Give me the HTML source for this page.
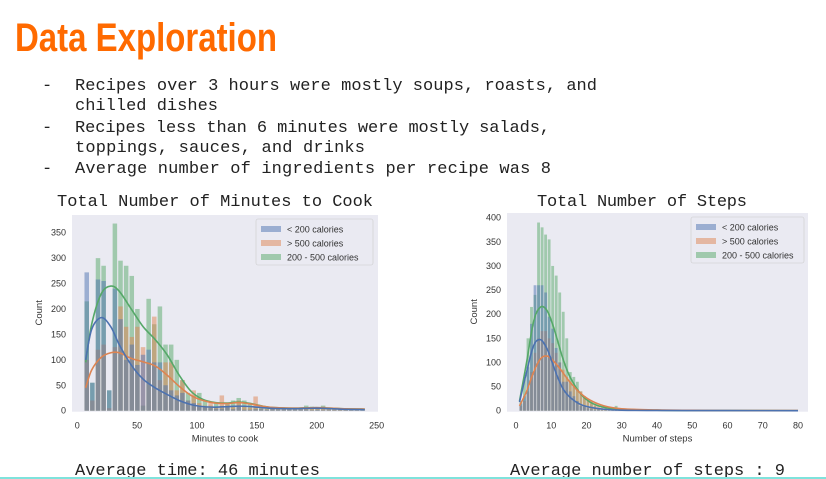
<!DOCTYPE html>
<html><head><meta charset="utf-8"><style>
html,body{margin:0;padding:0;background:#fff;}
svg{display:block;}
.mono{font-family:"Liberation Mono","DejaVu Sans Mono",monospace;font-size:17px;fill:#222;}
.tick{font-family:"Liberation Sans",sans-serif;font-size:9px;fill:#333;}
.lab{font-family:"Liberation Sans",sans-serif;font-size:9.5px;fill:#333;}
</style></head><body>
<svg id="slide" width="826" height="479" viewBox="0 0 826 479" xmlns="http://www.w3.org/2000/svg">
<text x="15" y="51" textLength="262" lengthAdjust="spacingAndGlyphs" style="font-family:'Liberation Sans Narrow','Liberation Sans',sans-serif;font-weight:bold;font-size:40px;fill:#ff6a00">Data Exploration</text>
<g>
<text class="mono" x="42" y="90">-</text><text class="mono" x="75" y="90" textLength="522">Recipes over 3 hours were mostly soups, roasts, and</text>
<text class="mono" x="75" y="110" textLength="143">chilled dishes</text>
<text class="mono" x="42" y="132">-</text><text class="mono" x="75" y="132" textLength="475">Recipes less than 6 minutes were mostly salads,</text>
<text class="mono" x="75" y="152" textLength="290">toppings, sauces, and drinks</text>
<text class="mono" x="42" y="173">-</text><text class="mono" x="75" y="173" textLength="476">Average number of ingredients per recipe was 8</text>
</g>
<text class="mono" x="57" y="206" textLength="316">Total Number of Minutes to Cook</text>
<text class="mono" x="537" y="206" textLength="210">Total Number of Steps</text>
<text class="mono" x="75" y="475" textLength="245">Average time: 46 minutes</text>
<text class="mono" x="510" y="475" textLength="275">Average number of steps : 9</text>
<rect x="0" y="477" width="826" height="2" fill="#7fe3dc"/>
<g id="c1"></g><g id="c2"></g>
</svg>
<script>
// ---- Chart 1 data: minutes to cook ----
const c1BinStart = 6, c1BinWidth = 4.7;
const c1Low = [272,55,258,255,40,240,180,100,130,90,110,120,95,95,50,40,30,35,20,15,8,6,5,4,4,8,3,8,2,2,3,3,2,3,2,2,2,2,2,2,1,2,1,1,1,1,1,1,1,1];
const c1High = [100,20,120,130,5,125,205,165,145,165,125,95,185,60,95,95,40,60,20,40,15,10,15,8,30,12,10,20,8,6,28,4,3,4,4,3,5,5,5,5,4,5,8,5,3,3,3,3,3,5];
const c1Mid = [215,55,300,285,40,368,295,285,265,200,10,220,170,205,130,130,100,60,35,30,35,20,10,15,10,15,20,25,20,15,8,5,5,5,5,5,5,5,5,10,8,5,10,5,5,3,3,3,3,3];
const c1KdeX = [7,12,20,28,35,45,55,65,75,85,95,105,115,125,135,145,160,180,200,220,240];
const c1KdeLow = [100,160,183,165,130,90,62,45,32,20,12,8,7,8,9,8,5,4,5,3,2];
const c1KdeHigh = [45,80,105,114,114,103,96,88,70,48,30,20,15,14,16,13,7,5,6,4,3];
const c1KdeMid = [95,170,230,245,235,200,165,140,110,70,38,22,16,15,17,14,7,5,6,4,3];
const c1XTicks = [0,50,100,150,200,250];
const c1YTicks = [0,50,100,150,200,250,300,350];
// ---- Chart 2 data: number of steps ----
const c2BinStart = 1, c2BinWidth = 1;
const c2Low = [15,30,90,180,260,260,260,245,195,170,130,100,60,60,40,30,20,10,8,5,3,2,2,1,1,1,1,1,1,1];
const c2High = [10,20,40,80,120,150,165,165,150,140,120,100,85,70,60,50,45,40,30,25,20,15,10,8,5,5,3,3,2,2,2,1,1,1,1,1];
const c2Mid = [20,65,150,215,240,390,380,365,355,300,280,245,205,150,80,70,60,40,30,20,15,10,5,3,3,2,2,10,2,1,1,1];
const c2KdeX = [1,3,5,7,9,11,13,15,18,21,25,30,40,50,60,80];
const c2KdeLow = [18,80,135,147,125,85,50,30,14,7,3,1,0.5,0.3,0.2,0.1];
const c2KdeHigh = [10,40,80,108,113,100,82,62,38,22,10,4,1.5,0.8,0.4,0.2];
const c2KdeMid = [20,100,185,215,205,165,115,75,38,18,7,3,1,0.5,0.3,0.1];
const c2XTicks = [0,10,20,30,40,50,60,70,80];
const c2YTicks = [0,50,100,150,200,250,300,350,400];

const NS = "http://www.w3.org/2000/svg";
const COL = {low:"#4c72b0", high:"#dd8452", mid:"#55a868"};
function mk(tag, attrs, parent){const e=document.createElementNS(NS,tag);for(const k in attrs)e.setAttribute(k,attrs[k]);parent.appendChild(e);return e;}
function curve(pts){let d="M"+pts[0][0]+","+pts[0][1];for(let i=0;i<pts.length-1;i++){const p0=pts[Math.max(0,i-1)],p1=pts[i],p2=pts[i+1],p3=pts[Math.min(pts.length-1,i+2)];const c1=[p1[0]+(p2[0]-p0[0])/6,p1[1]+(p2[1]-p0[1])/6],c2=[p2[0]-(p3[0]-p1[0])/6,p2[1]-(p3[1]-p1[1])/6];d+=" C"+c1+" "+c2+" "+p2;}return d;}

function drawChart(g, cfg){
  const sx=v=>cfg.x0+(v-cfg.xmin)*(cfg.x1-cfg.x0)/(cfg.xmax-cfg.xmin);
  const sy=v=>cfg.y0-v*cfg.yScale;
  const bg=mk("rect",{x:cfg.left,y:cfg.top,width:cfg.right-cfg.left,height:cfg.y0-cfg.top+1,fill:"#eaeaf2"},g);
  
  
  const series=[["mid",cfg.mid,cfg.kMid],["high",cfg.high,cfg.kHigh],["low",cfg.low,cfg.kLow]];
  series.forEach(([key,vals])=>{
    vals.forEach((v,i)=>{
      const xa=sx(cfg.binStart+i*cfg.binWidth), xb=sx(cfg.binStart+(i+1)*cfg.binWidth);
      const r=mk("rect",{x:xa,y:sy(v),width:Math.max(0.8,(xb-xa)*0.8),height:v*cfg.yScale,fill:COL[key],"fill-opacity":0.5},g);
      
      
    });
  });
  series.forEach(([key,,k])=>{
    const p=mk("path",{d:curve(cfg.kx.map((x,i)=>[sx(x),sy(k[i])])),fill:"none",stroke:COL[key],"stroke-width":1.6},g);
    
    
  });
  cfg.xt.forEach(t=>{const e=mk("text",{x:sx(t),y:cfg.y0+18,"text-anchor":"middle",class:"tick"},g);e.textContent=t;
    
    });
  cfg.yt.forEach(t=>{const e=mk("text",{x:cfg.left-6,y:sy(t)+3,"text-anchor":"end",class:"tick"},g);e.textContent=t;
    
    });
  const xl=mk("text",{x:(cfg.left+cfg.right)/2,y:cfg.y0+31,"text-anchor":"middle",class:"lab"},g);xl.textContent=cfg.xlabel;
  
  
  const yl=mk("text",{x:0,y:0,"text-anchor":"middle",class:"lab",transform:"translate("+(cfg.left-30)+","+((cfg.top+cfg.y0)/2)+") rotate(-90)"},g);yl.textContent="Count";
  
  
  const lg=mk("g",{},g);
  
  
  mk("rect",{x:cfg.lx,y:cfg.top+4,width:cfg.lw,height:46,fill:"#eaeaf2",stroke:"#ccc","stroke-width":0.6,rx:2},lg);
  [["low","< 200 calories"],["high","> 500 calories"],["mid","200 - 500 calories"]].forEach(([k,t],i)=>{
    const yy=cfg.top+14+i*14;
    mk("rect",{x:cfg.lx+5,y:yy-3,width:20,height:6,fill:COL[k],"fill-opacity":0.5},lg);
    const e=mk("text",{x:cfg.lx+31,y:yy+3.5,class:"tick"},lg);e.textContent=t;
    
    
  });
}
drawChart(document.getElementById("c1"),{id:"chart1",left:72,right:378,top:215,y0:410.7,x0:77.3,x1:376.7,xmin:0,xmax:250,yScale:178/350,
  binStart:c1BinStart,binWidth:c1BinWidth,low:c1Low,high:c1High,mid:c1Mid,kx:c1KdeX,kLow:c1KdeLow,kHigh:c1KdeHigh,kMid:c1KdeMid,
  xt:c1XTicks,yt:c1YTicks,xlabel:"Minutes to cook",lx:256,lw:117});
drawChart(document.getElementById("c2"),{id:"chart2",left:507,right:808,top:213,y0:410.7,x0:516,x1:798,xmin:0,xmax:80,yScale:193/400,
  binStart:c2BinStart,binWidth:c2BinWidth,low:c2Low,high:c2High,mid:c2Mid,kx:c2KdeX,kLow:c2KdeLow,kHigh:c2KdeHigh,kMid:c2KdeMid,
  xt:c2XTicks,yt:c2YTicks,xlabel:"Number of steps",lx:691,lw:113});
</script>
</body></html>
